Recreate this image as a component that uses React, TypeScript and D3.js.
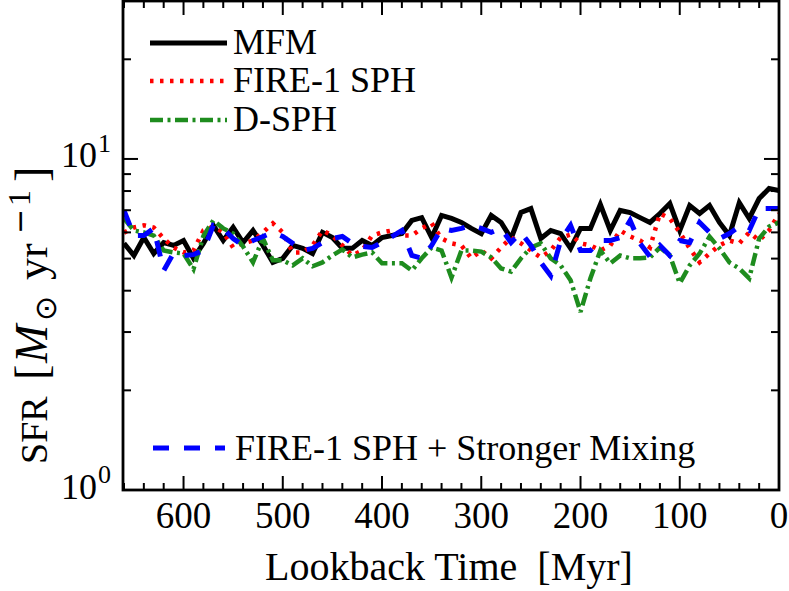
import React from "react";
import * as d3 from "d3";

const TIMES = [660, 650, 640, 630, 620, 610, 600, 590, 580, 570, 560, 550, 540, 530, 520, 510, 500, 490, 480, 470, 460, 450, 440, 430, 420, 410, 400, 390, 380, 370, 360, 350, 340, 330, 320, 310, 300, 290, 280, 270, 260, 250, 240, 230, 220, 210, 200, 190, 180, 170, 160, 150, 140, 130, 120, 110, 100, 90, 80, 70, 60, 50, 40, 30, 20, 10, 0];

const MFM = [5.56, 5.11, 5.79, 5.18, 5.59, 5.48, 5.67, 5.01, 5.56, 6.30,
  5.67, 6.21, 5.59, 6.08, 5.48, 4.87, 5.01, 5.48, 5.37, 5.18,
  6.00, 5.79, 5.37, 5.37, 5.67, 5.48, 5.79, 5.87, 5.95, 6.52,
  6.65, 5.79, 6.75, 6.61, 6.43, 6.17, 5.95, 6.75, 6.43, 5.75,
  6.89, 7.08, 5.75, 6.08, 5.95, 5.37, 6.17, 6.17, 7.28, 6.08,
  6.99, 6.89, 6.65, 6.43, 6.84, 7.33, 6.08, 7.23, 6.84, 7.23,
  6.43, 5.87, 7.38, 6.61, 7.59, 8.14, 8.03];

const FIRE1 = [5.99, 6.21, 6.30, 6.21, 5.75, 5.40, 5.22, 5.29, 6.08, 6.25,
  6.00, 5.40, 5.56, 5.67, 6.00, 6.39, 6.00, 5.22, 5.22, 5.48,
  6.08, 5.87, 5.48, 5.11, 5.29, 5.87, 6.00, 6.08, 5.87, 5.87,
  6.17, 6.39, 5.75, 5.56, 5.48, 5.01, 5.29, 5.01, 5.40, 5.79,
  5.56, 5.29, 5.04, 5.29, 5.79, 5.91, 5.56, 5.48, 5.29, 5.48,
  6.08, 5.83, 5.67, 5.40, 6.84, 6.61, 6.00, 5.37, 4.87, 5.18,
  5.48, 5.67, 5.56, 6.00, 5.67, 6.08, 6.84];

const DSPH = [6.61, 6.08, 6.00, 5.87, 5.29, 5.22, 5.18, 4.65, 5.85, 6.52,
  6.17, 5.95, 5.44, 4.87, 5.75, 4.94, 4.94, 4.77, 5.01, 4.74,
  4.87, 5.11, 5.33, 5.04, 5.14, 5.22, 4.84, 4.84, 4.84, 4.60,
  5.01, 5.40, 5.29, 4.38, 5.29, 5.29, 5.25, 5.04, 4.67, 4.57,
  5.01, 5.40, 5.56, 5.01, 4.77, 4.30, 3.45, 4.36, 5.29, 4.84,
  5.11, 5.01, 5.01, 5.04, 5.40, 5.11, 4.21, 4.77, 5.18, 5.83,
  5.37, 4.87, 4.67, 4.36, 5.75, 6.25, 6.43];

const MIXING = [6.99, 5.87, 5.87, 6.17, 4.60, 5.20, 5.11, 5.14, 5.29, 6.30,
  6.17, 5.75, 5.48, 5.67, 5.83, 6.00, 5.83, 5.56, 5.29, 5.37,
  5.59, 5.75, 5.83, 5.56, 5.44, 5.40, 5.59, 5.83, 6.08, 5.11,
  5.01, 5.48, 6.17, 6.08, 6.17, 6.30, 6.17, 6.00, 6.17, 5.59,
  6.00, 5.48, 4.87, 4.44, 5.67, 6.30, 5.29, 5.29, 5.67, 5.67,
  5.79, 6.52, 5.56, 5.07, 5.48, 5.11, 5.67, 5.59, 6.43, 6.00,
  5.75, 5.95, 6.25, 6.08, 7.08, 7.08, 7.08];

const X_MAJOR = [600, 500, 400, 300, 200, 100, 0];
const X_MINOR = [660, 640, 620, 580, 560, 540, 520, 480, 460, 440, 420, 380, 360, 340, 320, 280, 260, 240, 220, 180, 160, 140, 120, 80, 60, 40, 20];
const Y_MAJOR = [1, 10];
const Y_MAJOR_EXP = ["0", "1"];
const Y_MINOR = [2, 3, 4, 5, 6, 7, 8, 9, 20];

const SERIES = [
  { name: "MFM", values: MFM, color: "#000000", width: 5, dash: "" },
  { name: "FIRE-1 SPH", values: FIRE1, color: "#ff0000", width: 4.5, dash: "3.5 6.5" },
  { name: "D-SPH", values: DSPH, color: "#1e8c1e", width: 4.5, dash: "13 4.5 3 4.5" },
  { name: "FIRE-1 SPH + Stronger Mixing", values: MIXING, color: "#0000ff", width: 5, dash: "16 15" },
];

const W = 789, H = 591;
const L = 123, R = 779, T = 1, B = 490;
const SERIF = "Liberation Serif";
const TS = { fontFamily: SERIF };
const SYM = { fontFamily: "DejaVu Sans" };

export default function App() {
  const x = d3.scaleLinear().domain([661, 0]).range([L, R]);
  const y = d3.scaleLog().domain([1, 30]).range([B, T]);
  const line = d3.line<number>().x((_, i) => x(TIMES[i])).y((d) => y(d));

  const legendTop = [
    { s: SERIES[0], ly: 43, ty: 54 },
    { s: SERIES[1], ly: 81, ty: 92 },
    { s: SERIES[2], ly: 120, ty: 131 },
  ];

  return (
    <svg width={W} height={H} style={{ position: "absolute", left: 0, top: 0, background: "#fff" }}>
      <defs>
        <clipPath id="plotclip">
          <rect x={L} y={T} width={R - L} height={B - T} />
        </clipPath>
      </defs>
      <rect x={0} y={0} width={W} height={H} fill="#fff" />
      <g clipPath="url(#plotclip)">
        {SERIES.map((s) => (
          <path key={s.name} d={line(s.values) || ""} fill="none" stroke={s.color}
            strokeWidth={s.width} strokeDasharray={s.dash || undefined} strokeLinejoin="miter" strokeMiterlimit={3} />
        ))}
      </g>
      <g stroke="#000" strokeWidth={2}>
        {X_MAJOR.map((t) => (
          <g key={"xm" + t}>
            <line x1={x(t)} x2={x(t)} y1={B} y2={B - 14} />
            <line x1={x(t)} x2={x(t)} y1={T} y2={T + 14} />
          </g>
        ))}
        {X_MINOR.map((t) => (
          <g key={"xn" + t}>
            <line x1={x(t)} x2={x(t)} y1={B} y2={B - 7} />
            <line x1={x(t)} x2={x(t)} y1={T} y2={T + 7} />
          </g>
        ))}
        {Y_MAJOR.map((v) => (
          <g key={"ym" + v}>
            <line x1={L} x2={L + 15} y1={y(v)} y2={y(v)} />
            <line x1={R} x2={R - 15} y1={y(v)} y2={y(v)} />
          </g>
        ))}
        {Y_MINOR.map((v) => (
          <g key={"yn" + v}>
            <line x1={L} x2={L + 8} y1={y(v)} y2={y(v)} />
            <line x1={R} x2={R - 8} y1={y(v)} y2={y(v)} />
          </g>
        ))}
      </g>
      <rect x={L} y={T} width={R - L} height={B - T} fill="none" stroke="#000" strokeWidth={2.8} />
      {X_MAJOR.map((t) => (
        <text key={"xl" + t} x={x(t)} y={528} textAnchor="middle" fontSize={37} style={TS}>{t}</text>
      ))}
      {Y_MAJOR.map((v, i) => (
        <g key={"yl" + v}>
          <text x={97} y={y(v) + 8.5} textAnchor="end" fontSize={36} style={TS}>10</text>
          <text x={98} y={y(v) - 7} textAnchor="start" fontSize={26} style={TS}>{Y_MAJOR_EXP[i]}</text>
        </g>
      ))}
      <text x={449} y={580} textAnchor="middle" fontSize={40} style={{ ...TS, whiteSpace: "pre" }}>{"Lookback Time  [Myr]"}</text>
      <g transform="translate(47,464) rotate(-90)" style={TS}>
        <text x={0} y={0} fontSize={38}>SFR</text>
        <text x={84} y={0} fontSize={46}>[</text>
        <text x={101} y={0} fontSize={46} fontStyle="italic">M</text>
        <text x={143} y={9} fontSize={30} style={SYM}>⊙</text>
        <text x={184} y={0} fontSize={44}>yr</text>
        <text x={230} y={-17} fontSize={30} style={SYM}>−</text>
        <text x={258} y={-17} fontSize={32}>1</text>
        <text x={282} y={0} fontSize={46}>]</text>
      </g>
      {legendTop.map(({ s, ly, ty }) => (
        <g key={"lg" + s.name}>
          <line x1={150} x2={227} y1={ly} y2={ly} stroke={s.color} strokeWidth={s.width} strokeDasharray={s.dash || undefined} />
          <text x={233} y={ty} fontSize={36} style={TS}>{s.name}</text>
        </g>
      ))}
      <g>
        <line x1={153} x2={225} y1={448} y2={448} stroke={SERIES[3].color} strokeWidth={SERIES[3].width} strokeDasharray={SERIES[3].dash} />
        <text x={235} y={460} fontSize={36} style={TS}>{SERIES[3].name}</text>
      </g>
    </svg>
  );
}
